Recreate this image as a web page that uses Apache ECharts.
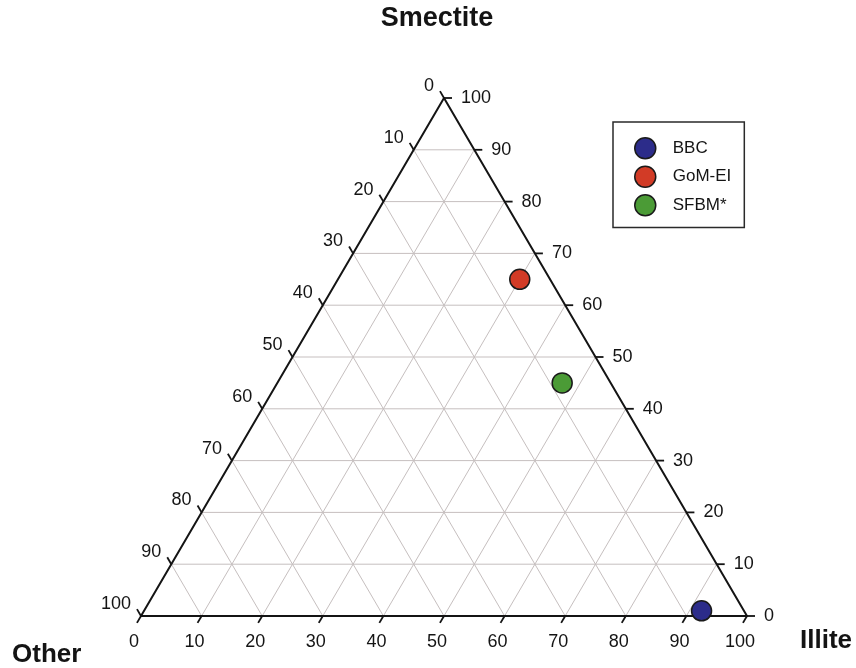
<!DOCTYPE html>
<html>
<head>
<meta charset="utf-8">
<title>Clay mineralogy ternary diagram</title>
<script src="https://cdn.jsdelivr.net/npm/echarts@6/dist/echarts.min.js"></script>
<style>
  html, body { margin: 0; padding: 0; background: #ffffff; }
  #chart { width: 856px; height: 668px; }
</style>
</head>
<body>
<div id="chart"></div>
<script>
// Ternary diagram: Smectite (top vertex), Illite (right vertex), Other (left vertex), in %
const tickValues = [0, 10, 20, 30, 40, 50, 60, 70, 80, 90, 100];
const tickLabels = ['0', '10', '20', '30', '40', '50', '60', '70', '80', '90', '100'];

const samples = ['BBC', 'GoM-EI', 'SFBM*'];
const illite = [92, 30, 47];
const smectite = [1, 65, 45];
const other = [7, 5, 8];
const sampleColors = ['#2c2c8a', '#d23b26', '#4b9b36'];

const H = Math.sqrt(3) / 2;
// (Illite, Smectite) -> plane coordinates of an equilateral triangle with side 100
function tern(i, s) { return [i + s / 2, s * H]; }

const FONT = '"Liberation Sans", Arial, sans-serif';
const INK = '#141414';

// Grid segments: constant Smectite, constant Illite, constant Other
const gridSegs = [];
tickValues.forEach(function (v) {
  if (v === 0 || v === 100) return;
  gridSegs.push(tern(0, v).concat(tern(100 - v, v)));
  gridSegs.push(tern(v, 0).concat(tern(v, 100 - v)));
  gridSegs.push(tern(100 - v, 0).concat(tern(0, 100 - v)));
});

// Triangle outline
const edgeSegs = [
  tern(0, 0).concat(tern(100, 0)),
  tern(100, 0).concat(tern(0, 100)),
  tern(0, 100).concat(tern(0, 0))
];

// Tick anchors: [x, y, side, label]; side 0 = bottom (Illite), 1 = right (Smectite), 2 = left (Other)
const tickItems = [];
tickValues.forEach(function (v, k) {
  tickItems.push(tern(v, 0).concat([0, tickLabels[k]]));
  tickItems.push(tern(100 - v, v).concat([1, tickLabels[k]]));
  tickItems.push(tern(0, 100 - v).concat([2, tickLabels[k]]));
});

function segRenderer(color, width) {
  return function (params, api) {
    const a = api.coord([api.value(0), api.value(1)]);
    const b = api.coord([api.value(2), api.value(3)]);
    return {
      type: 'line',
      shape: { x1: a[0], y1: a[1], x2: b[0], y2: b[1] },
      style: { stroke: color, lineWidth: width, lineCap: 'round' },
      silent: true
    };
  };
}

function unit(p, q) {
  const dx = q[0] - p[0], dy = q[1] - p[1];
  const L = Math.sqrt(dx * dx + dy * dy);
  return [dx / L, dy / L];
}

function renderTick(params, api) {
  const p = api.coord([api.value(0), api.value(1)]);
  const side = api.value(2);
  const bl = api.coord(tern(0, 0));
  const br = api.coord(tern(100, 0));
  const top = api.coord(tern(0, 100));
  let dir, lx, ly, align, vAlign;
  if (side === 0) {
    dir = unit(top, bl);
    lx = p[0] - 7; ly = p[1] + 26; align = 'center'; vAlign = 'middle';
  } else if (side === 1) {
    dir = [1, 0];
    lx = p[0] + 17; ly = p[1]; align = 'left'; vAlign = 'middle';
  } else {
    dir = unit(br, top);
    lx = p[0] - 10; ly = p[1] - 12; align = 'right'; vAlign = 'middle';
  }
  const len = 8;
  return {
    type: 'group',
    silent: true,
    children: [
      {
        type: 'line',
        shape: { x1: p[0], y1: p[1], x2: p[0] + dir[0] * len, y2: p[1] + dir[1] * len },
        style: { stroke: INK, lineWidth: 1.8 }
      },
      {
        type: 'text',
        x: lx, y: ly,
        style: {
          text: api.value(3), fill: INK, fontSize: 18, fontFamily: FONT,
          align: align, verticalAlign: vAlign
        }
      }
    ]
  };
}

const chart = echarts.init(document.getElementById('chart'), null, { renderer: 'canvas' });

const series = [
  {
    type: 'custom', name: 'grid', coordinateSystem: 'cartesian2d',
    renderItem: segRenderer('#c6bfbf', 1), data: gridSegs, z: 1, silent: true
  },
  {
    type: 'custom', name: 'edges', coordinateSystem: 'cartesian2d',
    renderItem: segRenderer(INK, 2), data: edgeSegs, z: 2, silent: true
  },
  {
    type: 'custom', name: 'ticks', coordinateSystem: 'cartesian2d',
    renderItem: renderTick, data: tickItems, z: 3, silent: true
  }
];

samples.forEach(function (name, k) {
  series.push({
    type: 'scatter',
    name: name,
    symbol: 'circle',
    symbolSize: 20,
    itemStyle: { color: sampleColors[k], borderColor: '#1a1a1a', borderWidth: 1.5, opacity: 1 },
    data: [tern(illite[k], smectite[k]).concat([other[k]])],
    z: 5
  });
});

chart.setOption({
  animation: false,
  backgroundColor: '#ffffff',
  grid: { left: 141, right: 109, top: 98, bottom: 52 },
  xAxis: { type: 'value', min: 0, max: 100, show: false },
  yAxis: { type: 'value', min: 0, max: 100 * H, show: false },
  legend: {
    data: samples,
    orient: 'vertical',
    left: 613,
    top: 122,
    icon: 'circle',
    itemWidth: 21,
    itemHeight: 21,
    itemGap: 6,
    padding: [15, 13, 11, 21],
    borderColor: '#2a2a2a',
    borderWidth: 1.5,
    backgroundColor: '#ffffff',
    itemStyle: { borderColor: '#1a1a1a', borderWidth: 1.5, opacity: 1 },
    textStyle: { color: INK, fontSize: 17, fontFamily: FONT, padding: [0, 0, 0, 12] }
  },
  graphic: [
    {
      type: 'text', x: 437, y: 19,
      style: { text: 'Smectite', fill: INK, fontSize: 27, fontWeight: 'bold', fontFamily: FONT, align: 'center', verticalAlign: 'middle' }
    },
    {
      type: 'text', x: 12, y: 655,
      style: { text: 'Other', fill: INK, fontSize: 26, fontWeight: 'bold', fontFamily: FONT, align: 'left', verticalAlign: 'middle' }
    },
    {
      type: 'text', x: 800, y: 641,
      style: { text: 'Illite', fill: INK, fontSize: 26, fontWeight: 'bold', fontFamily: FONT, align: 'left', verticalAlign: 'middle' }
    }
  ],
  series: series
});
</script>
</body>
</html>
